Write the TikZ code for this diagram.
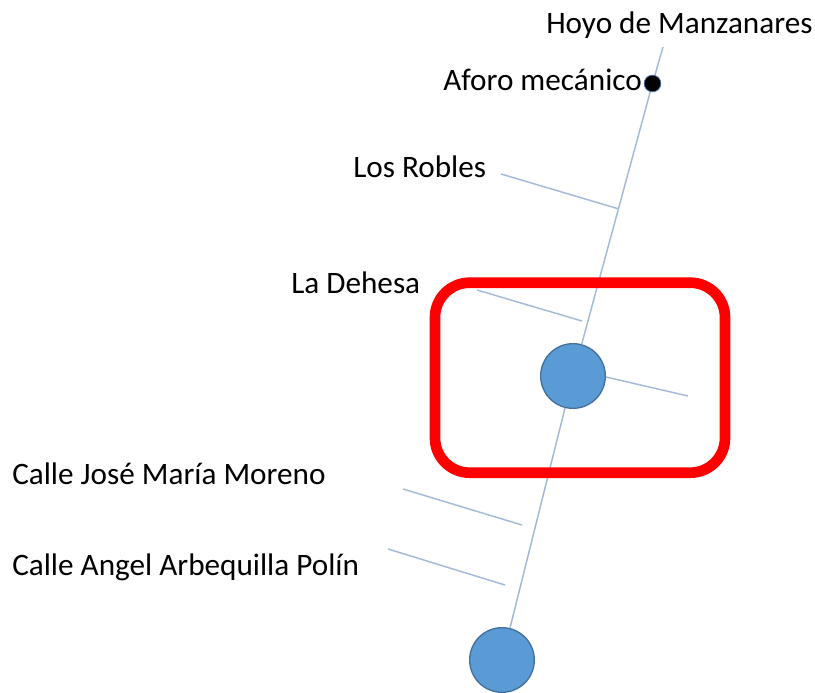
\documentclass[tikz,border=0pt]{standalone}
\usepackage{fontspec}
\setmainfont{Carlito}
\definecolor{linecol}{HTML}{A3BBD8}
\definecolor{fillblue}{HTML}{5B9BD5}
\definecolor{edgeblue}{HTML}{41719C}
\tikzset{
  x=0.75pt,y=-0.75pt,
  lab/.style={font=\fontsize{23.4pt}{28pt}\selectfont,text=black,inner sep=0pt,anchor=base west},
  road/.style={draw=linecol,line width=1.1pt},
  stn/.style={circle,draw=edgeblue,fill=fillblue,line width=1pt,minimum size=48.5pt,inner sep=0pt},
  pt/.style={circle,draw=edgeblue,fill=black,line width=0.6pt,minimum size=12.5pt,inner sep=0pt}
}
\begin{document}
\begin{tikzpicture}
\useasboundingbox (0,0) rectangle (815,693);
\coordinate (top) at (663,47);
\coordinate (r1a) at (501,174); \coordinate (r1b) at (619,209);
\coordinate (r2a) at (477,290); \coordinate (r2b) at (582,321);
\coordinate (r3a) at (606,377); \coordinate (r3b) at (688,396);
\coordinate (r4a) at (403,489); \coordinate (r4b) at (522,525);
\coordinate (r5a) at (388,549); \coordinate (r5b) at (505,585);
\node[stn] (s1) at (573,376) {};
\node[stn] (s2) at (502,660) {};
\node[pt] (afo) at (652.5,83.5) {};
\draw[road] (top) -- (afo);
\draw[road] (afo) -- (s1);
\draw[road] (s1) -- (s2);
\draw[road] (r1a) -- (r1b);
\draw[road] (r2a) -- (r2b);
\draw[road] (r3a) -- (r3b);
\draw[road] (r4a) -- (r4b);
\draw[road] (r5a) -- (r5b);
\node[draw=red,line width=8pt,rounded corners=26pt,minimum width=217.5pt,minimum height=142.5pt,inner sep=0pt] (box) at (580,377.7) {};
\node[lab] (t1) at (546,33) {Hoyo de Manzanares};
\node[lab] (t2) at (443,90) {Aforo mecánico};
\node[lab] (t3) at (353,177) {Los Robles};
\node[lab] (t4) at (291,293.5) {La Dehesa};
\node[lab] (t5) at (12,484) {Calle José María Moreno};
\node[lab] (t6) at (12,575) {Calle Angel Arbequilla Polín};
\end{tikzpicture}
\end{document}
